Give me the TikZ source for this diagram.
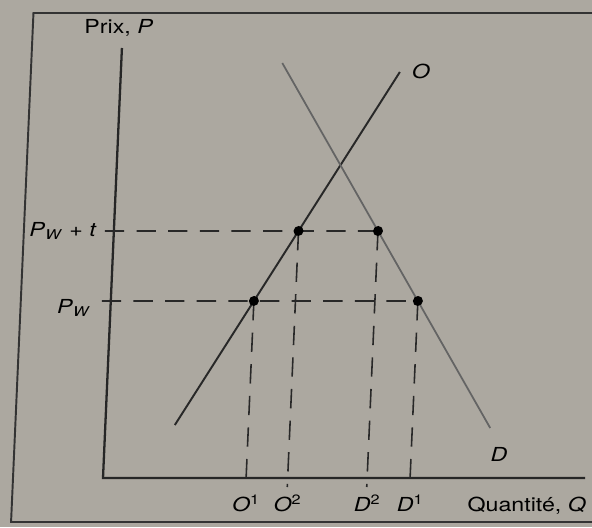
\documentclass[tikz,border=0pt]{standalone}
\usepackage{fontspec}
\setmainfont[FakeStretch=1.2]{TeX Gyre Heros}
\usepackage{tikz}
\usetikzlibrary{calc,positioning}
\definecolor{paper}{RGB}{172,168,160}
\definecolor{inkS}{RGB}{40,40,40}
\definecolor{inkD}{RGB}{100,100,100}
\newcommand{\vr}[1]{\textit{#1}}
\begin{document}
\begin{tikzpicture}[every node/.style={font=\fontsize{11}{13}\selectfont, inner sep=1pt},
  guide/.style={inkS, line width=0.9pt, dash pattern=on 11pt off 7pt},
  axis/.style={black!85, line width=1.3pt}]
  \useasboundingbox (-2.06,-0.98) rectangle (9.78,9.56);
  \fill[paper] (-2.06,-0.98) rectangle (9.78,9.56);
  \begin{scope}[xslant=0.044]
  \draw[black!80, line width=1.1pt] (10.4,9.3) -- (-1.8,9.3) -- (-1.8,-0.88) -- (10.4,-0.88);
  % axes
  \coordinate (Or) at (0,0);
  \coordinate (Ytop) at (0,8.6);
  \coordinate (Xend) at (9.64,0);
  \draw[axis] (Ytop) -- (Or) -- (Xend);
  % supply and demand
  \coordinate (S0) at (1.39,1.06);
  \coordinate (S1) at (5.58,8.12);
  \coordinate (D0) at (3.22,8.30);
  \coordinate (D1) at (7.70,1.00);
  \draw[inkS, line width=1.1pt] (S0) -- (S1);
  \draw[inkD, line width=1.0pt] (D0) -- (D1);
  % price levels and points
  \coordinate (Pt) at (0,4.94);
  \coordinate (Ptr) at (9,4.94);
  \coordinate (Pw) at (0,3.54);
  \coordinate (Pwr) at (9,3.54);
  \coordinate (A1) at (intersection of S0--S1 and Pw--Pwr);
  \coordinate (A2) at (intersection of S0--S1 and Pt--Ptr);
  \coordinate (B2) at (intersection of D0--D1 and Pt--Ptr);
  \coordinate (B1) at (intersection of D0--D1 and Pw--Pwr);
  \draw[guide] ($(Pt)+(-0.18,0)$) -- (B2);
  \draw[guide] ($(Pw)+(-0.18,0)$) -- (B1);
  \foreach \p in {A1,A2,B2,B1} {
    \draw[guide] (\p) -- ($(\p |- Or)+(0,-0.18)$);
    \fill[black] (\p) circle (0.1);
  }
  \node (lblO) at (6.0,8.14) {\vr{O}};
  \node (lblD) at (7.90,0.48) {\vr{D}};
  \node (yl) at (-0.08,9.0) {Prix, \vr{P}};
  \node (xl) at (8.5,-0.56) {Quantité, \vr{Q}};
  \node[left=0.3 of Pt] (lPt) {\vr{P}\textsubscript{\vr{W}} + \vr{t}};
  \node[left=0.36 of Pw, yshift=-4pt] (lPw) {\vr{P}\textsubscript{\vr{W}}};
  \node[below=0.3 of A1 |- Or] (lO1) {\vr{O}\textsuperscript{1}};
  \node[below=0.3 of A2 |- Or] (lO2) {\vr{O}\textsuperscript{2}};
  \node[below=0.3 of B2 |- Or] (lD2) {\vr{D}\textsuperscript{2}};
  \node[below=0.3 of B1 |- Or] (lD1) {\vr{D}\textsuperscript{1}};
  \end{scope}
\end{tikzpicture}
\end{document}
